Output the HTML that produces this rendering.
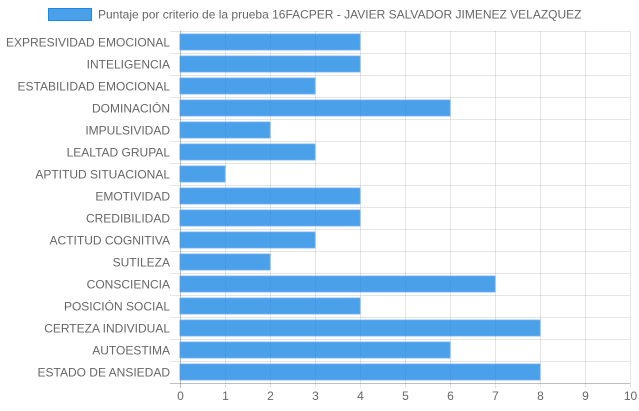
<!DOCTYPE html>
<html><head><meta charset="utf-8"><style>
body{margin:0;background:#fff;}
svg{display:block;font-family:"Liberation Sans",Arial,sans-serif;}
</style></head><body>
<svg id="chart" width="639" height="411">
<g>
<rect x="48.5" y="8.5" width="43" height="12" fill="rgba(30,136,229,0.8)" stroke="#1e88e5" stroke-width="1"/>
<text x="98" y="18.5" font-size="12" fill="#666">Puntaje por criterio de la prueba 16FACPER - JAVIER SALVADOR JIMENEZ VELAZQUEZ</text>
</g>
<g id="grid"></g><g id="bars"></g><g id="axes"></g>
</svg>
<script>
const categories=["EXPRESIVIDAD EMOCIONAL","INTELIGENCIA","ESTABILIDAD EMOCIONAL","DOMINACIÓN","IMPULSIVIDAD","LEALTAD GRUPAL","APTITUD SITUACIONAL","EMOTIVIDAD","CREDIBILIDAD","ACTITUD COGNITIVA","SUTILEZA","CONSCIENCIA","POSICIÓN SOCIAL","CERTEZA INDIVIDUAL","AUTOESTIMA","ESTADO DE ANSIEDAD"];
const values=[4,4,3,6,2,3,1,4,4,3,2,7,4,8,6,8];
const xTicks=[0,1,2,3,4,5,6,7,8,9,10];
const L=180,R=630,T=31,B=383;
const NS="http://www.w3.org/2000/svg";
const xs=v=>L+(v-xTicks[0])/(xTicks[xTicks.length-1]-xTicks[0])*(R-L);
const band=(B-T)/categories.length;
const yc=i=>T+band*(i+0.5);
function mk(tag,a,parent,txt){const e=document.createElementNS(NS,tag);for(const k in a)e.setAttribute(k,a[k]);if(txt!=null)e.textContent=txt;document.getElementById(parent).appendChild(e);return e;}
xTicks.forEach(t=>{const x=Math.round(xs(t))+0.5;
const g=mk('line',{x1:x,x2:x,y1:T,y2:B+5,stroke:t===0?'rgba(0,0,0,0.25)':'rgba(0,0,0,0.1)'},'grid');


const l=mk('text',{x:x,y:B+17,'font-size':12,fill:'#666','text-anchor':'middle'},'axes',t);

});
for(let i=0;i<=categories.length;i++){const y=Math.round(T+band*i)+0.5;
const g=mk('line',{x1:L-10,x2:R,y1:y,y2:y,stroke:i===categories.length?'rgba(0,0,0,0.25)':'rgba(0,0,0,0.1)'},'grid');

}
const bh=band*0.72;
categories.forEach((c,i)=>{
const b=mk('rect',{x:L,y:yc(i)-bh/2,width:xs(values[i])-L,height:bh,fill:'rgba(30,136,229,0.8)',stroke:'rgba(100,170,240,0.9)','stroke-width':1},'bars');


const l=mk('text',{x:L-10,y:yc(i)+4.5,'font-size':12,fill:'#666','text-anchor':'end'},'axes',c);

});
</script>
</body></html>
